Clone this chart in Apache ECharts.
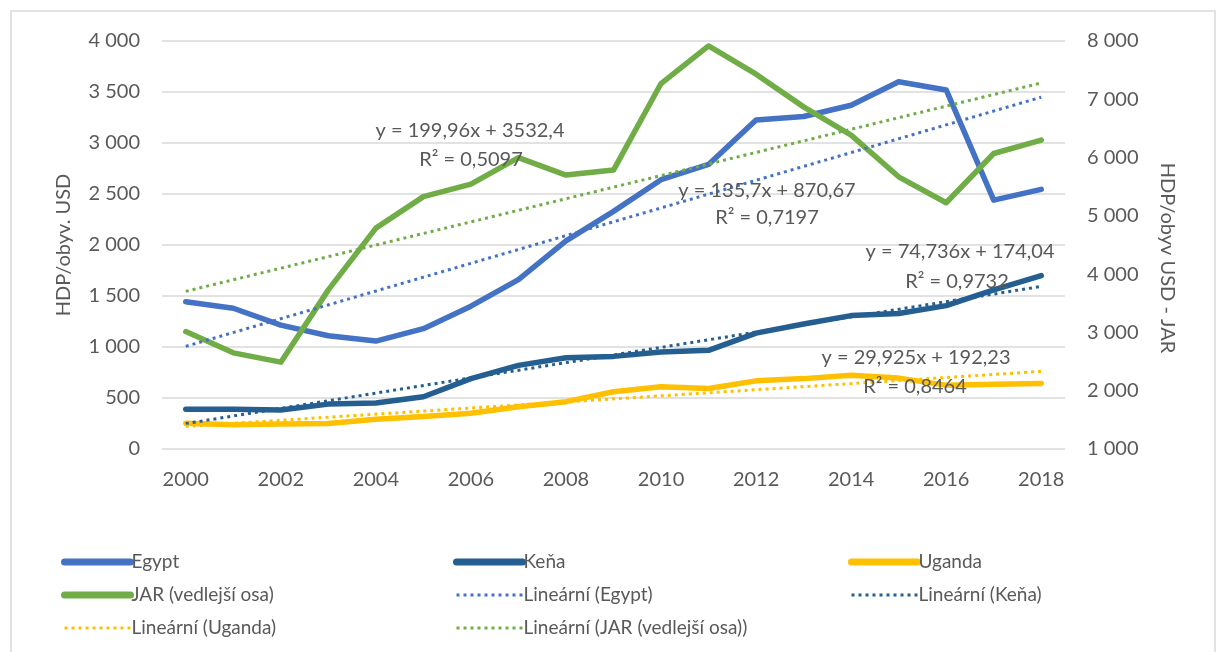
<!DOCTYPE html>
<html>
<head>
<meta charset="utf-8">
<script src="https://cdn.jsdelivr.net/npm/echarts@6/dist/echarts.min.js"></script>
<style>
  html, body { margin: 0; padding: 0; background: #fff; }
  #main { width: 1216px; height: 652px; }
</style>
</head>
<body>
<div id="main"></div>
<script>
// roky
var years = ['2000', '2001', '2002', '2003', '2004', '2005', '2006', '2007', '2008', '2009',
  '2010', '2011', '2012', '2013', '2014', '2015', '2016', '2017', '2018'];
// HDP/obyv. USD (hlavní osa)
var egypt = [1444, 1380, 1215, 1110, 1058, 1180, 1400, 1660, 2040, 2330, 2640, 2790, 3225, 3260, 3370, 3600, 3520, 2440, 2545];
var kena = [390, 390, 382, 440, 450, 512, 690, 820, 895, 908, 950, 967, 1136, 1225, 1308, 1328, 1406, 1560, 1700];
var uganda = [253, 237, 245, 250, 292, 318, 350, 415, 464, 561, 610, 594, 668, 690, 724, 695, 626, 636, 643];
// JAR (vedlejší osa)
var jar = [3014, 2650, 2490, 3730, 4790, 5330, 5545, 6000, 5700, 5785, 7270, 7915, 7430, 6870, 6385, 5670, 5225, 6070, 6300];
// lineární trendy: hodnota v roce 2000 a 2018
var egyptTrend = [1006, 3449];
var kenaTrend = [249, 1594];
var ugandaTrend = [222, 761];
var jarTrend = [3705, 7280];
// osy
var leftMax = 4000, leftStep = 500;
var rightMin = 1000, rightMax = 8000, rightStep = 1000;

var C_EGYPT = '#4472C4', C_KENA = '#255E91', C_UGANDA = '#FFC000', C_JAR = '#70AD47';
var FONT = 'Lato';
var TXT = '#595959';
var DOTS = [3, 4];

function fmt(v) {
  return String(v).replace(/\B(?=(\d{3})+(?!\d))/g, ' ');
}
function trend(arr) {
  return [[years[0], arr[0]], [years[years.length - 1], arr[1]]];
}
function solid(name, color, data, axis) {
  return {
    name: name, type: 'line', data: data, yAxisIndex: axis || 0,
    symbol: 'none', lineStyle: { color: color, width: 5.5, cap: 'round', join: 'round' },
    itemStyle: { color: color }, z: 3
  };
}
function dotted(name, color, data, axis) {
  return {
    name: name, type: 'line', data: data, yAxisIndex: axis || 0,
    symbol: 'none', lineStyle: { color: color, width: 3, type: DOTS },
    itemStyle: { color: color }, z: 4
  };
}
function eq(x, y, t) {
  return {
    type: 'text', x: x, y: y, z: 100,
    style: { text: t, fill: TXT, font: '20px ' + FONT, align: 'center', verticalAlign: 'middle' }
  };
}
// položky legendy: plná nebo tečkovaná čára bez symbolu
function li(name, color, isDotted) {
  return {
    name: name,
    itemStyle: { opacity: 0 },
    lineStyle: isDotted
      ? { color: color, width: 3, type: DOTS, cap: 'butt' }
      : { color: color, width: 7, cap: 'round' }
  };
}
function legendCol(left, items) {
  return {
    orient: 'vertical', left: left, top: 547, itemWidth: 66, itemHeight: 20, itemGap: 13,
    data: items, selectedMode: false,
    textStyle: { color: TXT, fontFamily: FONT, fontSize: 19, lineHeight: 20, padding: [0, 0, 0, -4] }
  };
}

var myChart = echarts.init(document.getElementById('main'), null, { renderer: 'canvas' });
var option = {
  backgroundColor: '#fff',
  animation: false,
  grid: { left: 162, right: 151, top: 41, bottom: 203, containLabel: false },
  xAxis: {
    type: 'category', data: years, boundaryGap: true,
    axisLine: { show: false }, axisTick: { show: false },
    axisLabel: { interval: 1, color: TXT, fontFamily: FONT, fontSize: 20, margin: 21 }
  },
  yAxis: [{
    type: 'value', min: 0, max: leftMax, interval: leftStep,
    name: 'HDP/obyv. USD', nameLocation: 'middle', nameGap: 88,
    nameTextStyle: { color: TXT, fontFamily: FONT, fontSize: 20 },
    axisLine: { show: false }, axisTick: { show: false },
    axisLabel: { color: TXT, fontFamily: FONT, fontSize: 20, margin: 22, formatter: fmt },
    splitLine: { lineStyle: { color: '#d9d9d9', width: 1.5 } }
  }, {
    type: 'value', min: rightMin, max: rightMax, interval: rightStep, position: 'right',
    name: 'HDP/obyv USD - JAR', nameLocation: 'middle', nameGap: 92, nameRotate: -90,
    nameTextStyle: { color: TXT, fontFamily: FONT, fontSize: 20, padding: [0, 0, 0, 26] },
    axisLine: { show: false }, axisTick: { show: false },
    axisLabel: { color: TXT, fontFamily: FONT, fontSize: 20, margin: 22, formatter: fmt },
    splitLine: { show: false }
  }],
  legend: [
    legendCol(56, [li('Egypt', C_EGYPT), li('JAR (vedlejší osa)', C_JAR), li('Lineární (Uganda)', C_UGANDA, true)]),
    legendCol(448, [li('Keňa', C_KENA), li('Lineární (Egypt)', C_EGYPT, true), li('Lineární (JAR (vedlejší osa))', C_JAR, true)]),
    legendCol(843, [li('Uganda', C_UGANDA), li('Lineární (Keňa)', C_KENA, true)])
  ],
  series: [
    solid('Egypt', C_EGYPT, egypt),
    solid('Keňa', C_KENA, kena),
    solid('Uganda', C_UGANDA, uganda),
    solid('JAR (vedlejší osa)', C_JAR, jar, 1),
    dotted('Lineární (Egypt)', C_EGYPT, trend(egyptTrend)),
    dotted('Lineární (Keňa)', C_KENA, trend(kenaTrend)),
    dotted('Lineární (Uganda)', C_UGANDA, trend(ugandaTrend)),
    dotted('Lineární (JAR (vedlejší osa))', C_JAR, trend(jarTrend), 1)
  ],
  graphic: [
    {
      type: 'rect', z: 0, silent: true,
      shape: { x: 11, y: 11, width: 1204, height: 660 },
      style: { fill: 'none', stroke: '#d9d9d9', lineWidth: 1.5 }
    },
    eq(470, 131, 'y = 199,96x + 3532,4'),
    eq(471, 160, 'R² = 0,5097'),
    eq(767, 191, 'y = 135,7x + 870,67'),
    eq(767, 218, 'R² = 0,7197'),
    eq(960, 252, 'y = 74,736x + 174,04'),
    eq(957, 282, 'R² = 0,9732'),
    eq(916, 358, 'y = 29,925x + 192,23'),
    eq(915, 387, 'R² = 0,8464')
  ]
};
myChart.setOption(option);
</script>
</body>
</html>
